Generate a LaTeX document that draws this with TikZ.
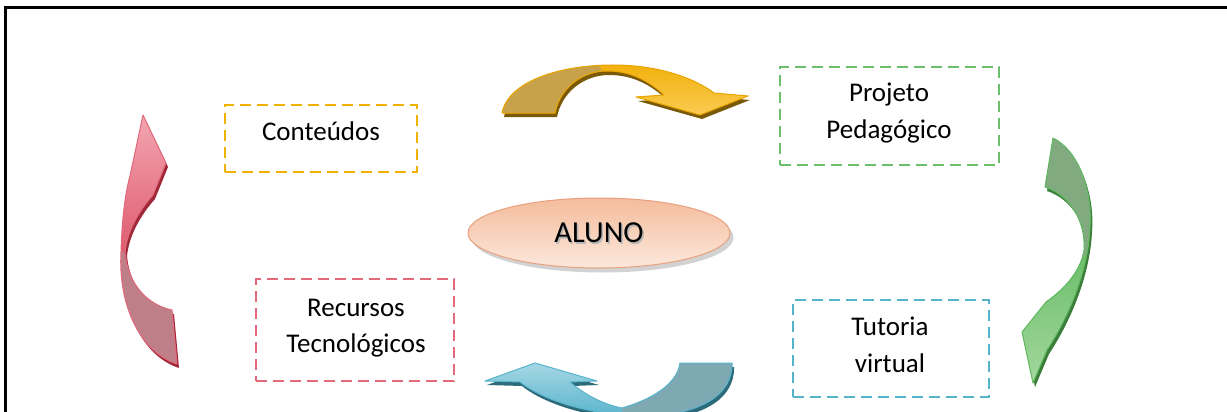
\documentclass[tikz,border=0pt]{standalone}
\usepackage{fontspec}
\setmainfont{Carlito}
\usetikzlibrary{shapes.geometric}

\definecolor{orangeC}{HTML}{F2B100}
\definecolor{greenC}{HTML}{6CBF6C}
\definecolor{redC}{HTML}{E26A7A}
\definecolor{blueC}{HTML}{55B3CA}
\definecolor{alunoEdge}{HTML}{E9A07F}
\definecolor{alunoTop}{HTML}{F4BC9C}
\definecolor{alunoBot}{HTML}{FCE8DC}

\tikzset{
  topicbox/.style={draw=#1, dashed, dash pattern=on 11pt off 6pt, line width=2.7pt, inner sep=0pt},
  lbl/.style={inner sep=0pt, font=\fontsize{27}{36}\selectfont, text=black},
  % outlines of the four curved block arrows
  arrO/.style={insert path={(502,113) .. controls (508,82) and (558,65) .. (613,65)
      .. controls (662,65) and (697,80) .. (714,93) -- (748,96) -- (700,115) -- (636,97) -- (664,95)
      .. controls (650,82) and (632,71) .. (607,71) .. controls (582,71) and (560,88) .. (555,113) -- cycle}},
  arrR/.style={insert path={(177,364) .. controls (140,352) and (118,305) .. (121,252)
      .. controls (122,215) and (126,190) .. (130,176) -- (143,115) -- (166,163) -- (153,195)
      .. controls (138,212) and (127,232) .. (125,252) .. controls (128,285) and (148,305) .. (172,310) -- cycle}},
  arrG/.style={insert path={(1053,138) .. controls (1078,150) and (1093,190) .. (1090,228)
      .. controls (1088,270) and (1070,315) .. (1047,350) -- (1033,383) -- (1022,332) -- (1046,302)
      .. controls (1066,288) and (1081,270) .. (1084,250) .. controls (1086,222) and (1070,195) .. (1045,187) -- cycle}},
  arrB/.style={insert path={(732,363) .. controls (733,395) and (700,415) .. (645,416)
      .. controls (595,416) and (545,402) .. (520,382) -- (485,381) -- (535,363) -- (597,381) -- (570,382)
      .. controls (585,395) and (605,405) .. (622,408) .. controls (650,400) and (677,385) .. (680,363) -- cycle}},
}

\begin{document}
\begin{tikzpicture}[x=1pt, y=-1pt]
\useasboundingbox (0,0) rectangle (1227,412);
\fill[white] (0,0) rectangle (1227,412);

% page frame
\draw[line width=2.4pt] (5.5,412) -- (5.5,7.7) -- (1227,7.7);

% ---------- orange arrow (top) ----------
\fill[fill={rgb,255:red,122;green,90;blue,8}, shift={(2,4)}] [arrO];
\begin{scope}
  \clip[arrO];
  \shade[top color={rgb,255:red,240;green,172;blue,0}, bottom color={rgb,255:red,252;green,208;blue,96}] (490,55) rectangle (760,125);
  \fill[fill={rgb,255:red,200;green,162;blue,74}] (400,40) -- (580,40) -- (609,80) -- (609,140) -- (400,140) -- cycle;
\end{scope}
\draw[draw={rgb,255:red,233;green,164;blue,0}, line width=1pt, line join=round] [arrO];

% ---------- red arrow (left) ----------
\fill[fill={rgb,255:red,160;green,40;blue,56}, shift={(2,4)}] [arrR];
\begin{scope}
  \clip[arrR];
  \shade[top color={rgb,255:red,244;green,168;blue,180}, bottom color={rgb,255:red,222;green,90;blue,110}] (100,110) rectangle (190,255);
  \fill[fill={rgb,255:red,191;green,127;blue,137}] (90,253) -- (200,250) -- (200,400) -- (90,400) -- cycle;
\end{scope}
\draw[draw={rgb,255:red,224;green,106;blue,124}, line width=1pt, line join=round] [arrR];

% ---------- green arrow (right) ----------
\fill[fill={rgb,255:red,58;green,126;blue,58}, shift={(2,4)}] [arrG];
\begin{scope}
  \clip[arrG];
  \shade[top color={rgb,255:red,102;green,188;blue,102}, bottom color={rgb,255:red,166;green,217;blue,160}] (1010,240) rectangle (1110,390);
  \fill[fill={rgb,255:red,130;green,170;blue,128}] (1000,100) -- (1120,100) -- (1120,258) -- (1000,252) -- cycle;
\end{scope}
\draw[draw={rgb,255:red,95;green,184;blue,95}, line width=1pt, line join=round] [arrG];

% ---------- blue arrow (bottom) ----------
\fill[fill={rgb,255:red,45;green,106;blue,122}, shift={(2,4)}] [arrB];
\begin{scope}
  \clip[arrB];
  \shade[top color={rgb,255:red,169;green,217;blue,230}, bottom color={rgb,255:red,86;green,178;blue,202}] (480,360) rectangle (640,420);
  \fill[fill={rgb,255:red,126;green,169;blue,178}] (622,350) -- (750,350) -- (750,420) -- (622,420) -- cycle;
\end{scope}
\draw[draw={rgb,255:red,88;green,180;blue,204}, line width=1pt, line join=round] [arrB];

% ---------- topic boxes ----------
\node[topicbox=orangeC, minimum width=192pt, minimum height=67pt] (conteudos) at (321,138.5) {};
\node[topicbox=greenC,  minimum width=219pt, minimum height=98pt] (projeto) at (889.5,116) {};
\node[topicbox=redC,    minimum width=198pt, minimum height=102pt] (recursos) at (355,330) {};
\node[topicbox=blueC,   minimum width=196pt, minimum height=97pt] (tutoria) at (891,348.5) {};

\node[lbl, anchor=base] (conteudosA) at (321,140) {Conteúdos};
\node[lbl, anchor=base] (projetoA) at (889,102) {Projeto};
\node[lbl, anchor=base] (projetoB) at (889,138) {Pedagógico};
\node[lbl, anchor=base] (recursosA) at (356,316) {Recursos};
\node[lbl, anchor=base] (recursosB) at (356,352) {Tecnológicos};
\node[lbl, anchor=base] (tutoriaA) at (890,335) {Tutoria};
\node[lbl, anchor=base] (tutoriaB) at (890,372) {virtual};

% ---------- central ellipse ----------
\node[ellipse, fill=black!35, opacity=0.5, minimum width=262pt, minimum height=70pt, inner sep=0pt] (alunoShadow) at (602.5,237.5) {};
\node[ellipse, draw=alunoEdge, line width=1pt, top color=alunoTop, bottom color=alunoBot,
      minimum width=262pt, minimum height=70pt, inner sep=0pt] (aluno) at (599,233) {};
\node[inner sep=0pt, font=\fontsize{30.5}{36}\selectfont, text=black!28] (alunoTxtShadow) at (600.5,234.5) {ALUNO};
\node[inner sep=0pt, font=\fontsize{30.5}{36}\selectfont, text=black] (alunoTxt) at (aluno.center) {ALUNO};
\end{tikzpicture}
\end{document}
